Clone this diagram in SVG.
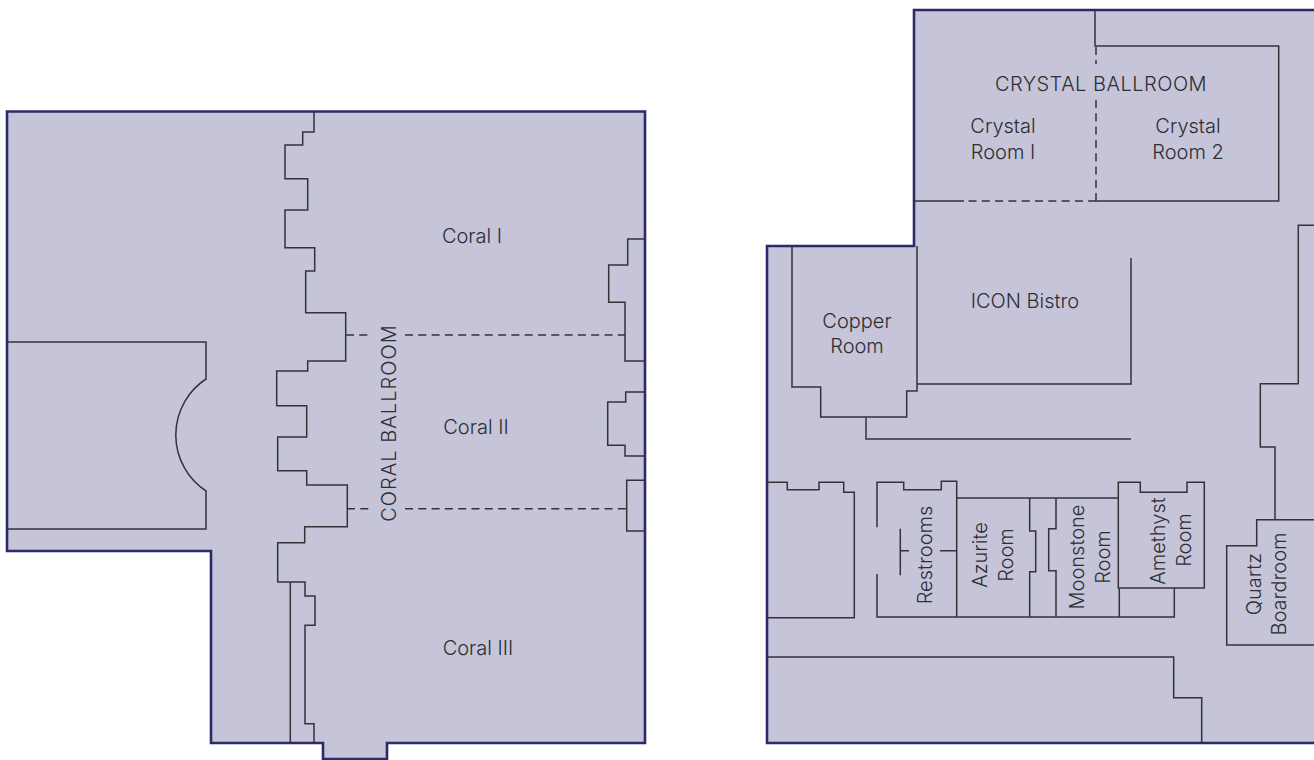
<svg xmlns="http://www.w3.org/2000/svg" width="1314" height="760" viewBox="0 0 1314 760">
<style>
.floor{fill:#c5c4d9;stroke:#2b2a6b;stroke-width:2.6;stroke-linejoin:miter}
.wall{fill:none;stroke:#333338;stroke-width:1.5;stroke-linejoin:miter}
.dash{fill:none;stroke:#333338;stroke-width:1.5;stroke-dasharray:8 5.3}
text{font-family:"Inter","Liberation Sans",sans-serif;font-weight:300;font-size:20px;fill:#2e2e33;text-anchor:middle}
.caps{letter-spacing:.5px}
.caps-wide{letter-spacing:1.05px}
</style>
<rect width="1314" height="760" fill="#ffffff"/>
<g id="coral-wing">
<path class="floor" d="M7 111.5H645V743H387V759H323V743H211V551H7Z"/>
<path id="coral-spine" class="wall" d="M314 112V132H302.7V145H285V178.7H307.7V210H285V247.7H314.7V271H305.7V312.7H345.7V361H307.7V371H276.7V405.7H306.7V437H277.7V470.7H306.7V485H347.3V526.7H304.7V542.7H277.7V582H305V596H315V625.3H305V723.7H314V743"/>
<path class="wall" d="M290.3 582V743"/>
<path class="wall" d="M645 239H627.7V265H608.7V302.3H625V361H645"/>
<path class="wall" d="M645 392H625.7V402H607.7V445.3H625V456H645"/>
<path class="wall" d="M645 480.3H626.7V531H645"/>
<path class="wall" d="M7 342H206V379A67 67 0 0 0 206 491V529H7"/>
<path class="dash" d="M346 335H368M405 335H625"/>
<path class="dash" d="M347 508.7H369M405 508.7H626"/>
</g>
<g id="coral-labels">
<text x="472" y="243">Coral I</text>
<text x="476" y="434">Coral II</text>
<text x="478" y="655">Coral III</text>
<text class="caps-wide" transform="translate(395.500 423) rotate(-90)">CORAL BALLROOM</text>
</g>
<g id="east-wing">
<path class="floor" d="M914 10H1320V743H767V246H914Z"/>
<path class="wall" d="M1095 10V46H1278.700V201H1095"/>
<path class="wall" d="M914 201H964"/>
<path class="dash" d="M968.500 201H1095"/>
<path class="dash" d="M1096 47V64M1096 100V201"/>
<path class="wall" d="M792 246V387H820.700V417H906.700V391H917V246"/>
<path class="wall" d="M917 384H1131V258"/>
<path class="wall" d="M866 417V439H1131"/>
<path class="wall" d="M1314 225.300H1298.300V383.700H1260.300V447H1275V519.700"/>
<path class="wall" d="M1314 519.700H1256.700V545.700H1226.700V645H1314"/>
<path class="wall" d="M767 657H1173.700V697.700H1201.700V743"/>
<path class="wall" d="M767 482.300H787.300V489.700H819V482.300H843.700V492.300H854.300V617.700H767"/>
<path class="wall" d="M877 527.300V482.300H903.700V489.700H941.300V481.300H956.700V617"/>
<path class="wall" d="M877 574V617H1174.300V588"/>
<path class="wall" d="M900.300 528.700V575.300M900.300 550.700H909M940 550.700H956.700"/>
<path class="wall" d="M956.700 498H1118.300"/>
<path class="wall" d="M1029.700 498V531H1035.700V571.700H1029.700V617"/>
<path class="wall" d="M1056 498V528.700H1048.700V570.700H1056V617"/>
<path class="wall" d="M1118.300 482.300H1140.300V492.300H1187V482.300H1204.300V588H1118.300Z"/>
<path class="wall" d="M1119.300 588V617"/>
</g>
<g id="east-labels">
<text class="caps" x="1101" y="91">CRYSTAL BALLROOM</text>
<text x="1003" y="133">Crystal</text>
<text x="1003" y="159">Room I</text>
<text x="1188" y="133">Crystal</text>
<text x="1188" y="159">Room 2</text>
<text x="1025" y="308">ICON Bistro</text>
<text x="857" y="328">Copper</text>
<text x="857" y="353">Room</text>
<text transform="translate(932 555) rotate(-90)">Restrooms</text>
<text transform="translate(987 555) rotate(-90)">Azurite</text>
<text transform="translate(1013 555) rotate(-90)">Room</text>
<text transform="translate(1084 557) rotate(-90)">Moonstone</text>
<text transform="translate(1110 557) rotate(-90)">Room</text>
<text transform="translate(1165 541) rotate(-90)">Amethyst</text>
<text transform="translate(1191 540) rotate(-90)">Room</text>
<text transform="translate(1261 584) rotate(-90)">Quartz</text>
<text transform="translate(1286 584) rotate(-90)">Boardroom</text>
</g>
</svg>
